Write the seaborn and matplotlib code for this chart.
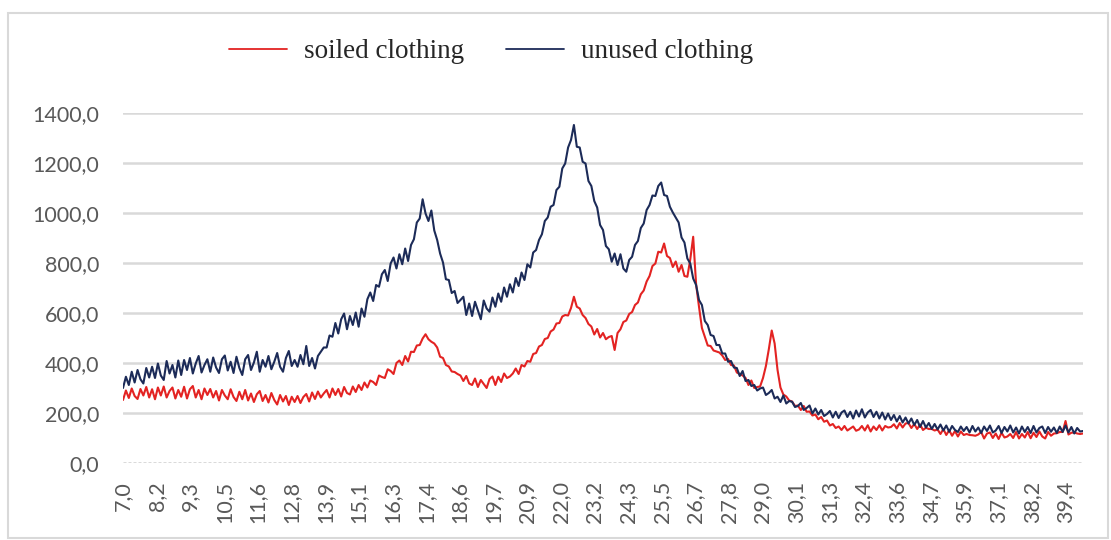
import numpy as np
import pandas as pd
import matplotlib
matplotlib.use("Agg")
import matplotlib.pyplot as plt
from matplotlib.patches import Rectangle
from matplotlib.ticker import FixedLocator, FuncFormatter
import seaborn as sns

# 2-theta scan positions (degrees), 0.1 step
two_theta = np.round(np.arange(70, 401) / 10.0, 1)

# intensity of the unused clothing sample, one row per degree (7.0 ... 39.9), then 40.0
unused_clothing = [
    300, 345, 312, 365, 322, 372, 335, 318, 380, 342,
    385, 340, 398, 350, 332, 408, 358, 392, 342, 410,
    352, 412, 372, 420, 358, 398, 428, 362, 392, 415,
    365, 422, 382, 360, 415, 430, 370, 405, 360, 425,
    380, 352, 415, 432, 372, 402, 445, 365, 412, 385,
    428, 375, 405, 440, 385, 365, 420, 448, 388, 412,
    385, 432, 395, 468, 388, 420, 378, 428, 445, 462,
    462, 510, 505, 560, 518, 575, 598, 535, 588, 552,
    602, 545, 618, 585, 655, 682, 648, 712, 705, 755,
    772, 728, 798, 822, 778, 835, 795, 858, 808, 872,
    895, 962, 978, 1055, 998, 968, 1010, 930, 892, 838,
    802, 735, 732, 680, 688, 640, 652, 665, 592, 638,
    588, 645, 610, 575, 650, 618, 605, 662, 625, 678,
    645, 702, 665, 715, 682, 740, 708, 762, 732, 795,
    782, 842, 852, 892, 915, 968, 982, 1025, 1032, 1092,
    1105, 1178, 1198, 1262, 1292, 1352, 1265, 1262, 1205, 1198,
    1128, 1108, 1048, 1022, 952, 932, 868, 855, 805, 838,
    792, 835, 778, 765, 812, 825, 872, 888, 940, 958,
    1012, 1032, 1070, 1068, 1108, 1122, 1072, 1068, 1025, 1002,
    982, 962, 902, 882, 818, 798, 738, 712, 652, 632,
    568, 552, 512, 508, 472, 472, 438, 438, 405, 408,
    382, 380, 348, 368, 328, 332, 308, 312, 290, 298,
    302, 272, 280, 292, 258, 265, 244, 270, 238, 248,
    245, 224, 228, 240, 212, 220, 230, 198, 218, 194,
    212, 188, 196, 208, 182, 205, 180, 202, 210, 184,
    205, 178, 210, 186, 215, 182, 202, 212, 184, 205,
    178, 202, 174, 198, 172, 192, 166, 188, 162, 182,
    158, 178, 152, 172, 144, 168, 142, 160, 136, 156,
    134, 154, 130, 150, 125, 148, 132, 124, 146, 128,
    144, 122, 148, 126, 142, 120, 146, 128, 150, 122,
    130, 148, 120, 144, 126, 150, 122, 142, 118, 146,
    124, 144, 120, 148, 122, 140, 146, 120, 144, 125,
    142, 120, 146, 124, 150, 122, 144, 118, 140, 126,
    128,
]

# intensity of the soiled clothing sample, same layout
soiled_clothing = [
    252, 290, 260, 298, 268, 256, 296, 270, 304, 262,
    295, 255, 302, 270, 306, 262, 288, 302, 258, 292,
    265, 305, 258, 295, 308, 262, 292, 255, 298, 272,
    296, 262, 288, 250, 292, 270, 255, 295, 264, 248,
    285, 255, 292, 250, 278, 244, 275, 288, 248, 272,
    242, 280, 252, 234, 272, 246, 268, 232, 265, 244,
    268, 240, 264, 276, 246, 282, 256, 286, 262, 278,
    292, 262, 298, 272, 296, 266, 304, 280, 274, 306,
    284, 312, 292, 322, 302, 330, 324, 312, 350, 344,
    340, 375, 368, 356, 400, 410, 392, 428, 406, 445,
    444, 470, 472, 498, 515, 495, 485, 478, 462, 425,
    420, 392, 386, 366, 364, 356, 350, 328, 348, 318,
    312, 338, 304, 332, 316, 300, 336, 346, 312, 345,
    324, 358, 340, 346, 358, 378, 356, 392, 386, 408,
    405, 436, 440, 466, 472, 496, 500, 526, 534, 558,
    560, 586, 592, 590, 620, 665, 625, 618, 592, 580,
    556, 546, 514, 536, 502, 520, 495, 504, 508, 452,
    520, 535, 564, 570, 596, 604, 632, 642, 675, 690,
    726, 748, 788, 798, 845, 842, 878, 828, 820, 784,
    806, 765, 792, 748, 745, 815, 905, 715, 625, 540,
    505, 470, 468, 450, 446, 442, 430, 412, 416, 392,
    390, 362, 356, 350, 340, 312, 330, 300, 304, 306,
    340, 388, 455, 530, 478, 372, 302, 274, 266, 250,
    246, 228, 230, 212, 228, 205, 206, 190, 194, 175,
    184, 165, 170, 150, 156, 140, 146, 132, 148, 130,
    138, 146, 129, 134, 148, 130, 151, 126, 146, 132,
    151, 130, 148, 142, 144, 155, 138, 160, 142, 158,
    160, 140, 156, 136, 154, 132, 141, 136, 136, 130,
    134, 116, 136, 112, 131, 109, 128, 106, 126, 112,
    116, 112, 111, 109, 114, 124, 98, 118, 122, 100,
    118, 96, 121, 102, 106, 116, 100, 124, 98, 116,
    102, 124, 99, 121, 104, 126, 106, 98, 124, 109,
    118, 119, 124, 124, 168, 114, 121, 122, 118, 116,
    118,
]

series_names = ["soiled clothing", "unused clothing"]
series_colors = ["#e32322", "#1c2b58"]

x_tick_labels = ["7,0", "8,2", "9,3", "10,5", "11,6", "12,8", "13,9", "15,1",
                 "16,3", "17,4", "18,6", "19,7", "20,9", "22,0", "23,2", "24,3",
                 "25,5", "26,7", "27,8", "29,0", "30,1", "31,3", "32,4", "33,6",
                 "34,7", "35,9", "37,1", "38,2", "39,4"]
y_ticks = [0, 200, 400, 600, 800, 1000, 1200, 1400]

df = pd.DataFrame({
    "two_theta": np.concatenate([two_theta, two_theta]),
    "intensity": np.concatenate([soiled_clothing, unused_clothing]),
    "sample": [series_names[0]] * len(two_theta) + [series_names[1]] * len(two_theta),
})

sns.set_style("white")
plt.rcParams["font.family"] = ["Lato", "DejaVu Sans"]

W, H = 1111, 540
fig = plt.figure(figsize=(W / 100, H / 100), dpi=100)
ax = fig.add_axes([123 / W, 77 / H, 960 / W, 350 / H])

# chart-area frame
fig.patches.append(Rectangle((8 / W, 2 / H), 1100 / W, 525 / H, transform=fig.transFigure,
                             fill=False, edgecolor="#d9d9d9", linewidth=1.5))

for g in y_ticks[1:]:
    ax.axhline(g, color="#d9d9d9", linewidth=1.8, zorder=0)
ax.axhline(0, color="#cfcfcf", linewidth=1.8, linestyle=(0, (1.2, 0.8)), zorder=0)

sns.lineplot(data=df, x="two_theta", y="intensity", hue="sample",
             hue_order=series_names, palette=series_colors,
             estimator=None, sort=False, linewidth=1.5, ax=ax, legend=False)

ax.set_xlim(7.0, 40.0)
ax.set_ylim(0, 1400)
for s in ax.spines.values():
    s.set_visible(False)

first = float(x_tick_labels[0].replace(",", "."))
last = float(x_tick_labels[-1].replace(",", "."))
ax.xaxis.set_major_locator(FixedLocator(np.linspace(first, last, len(x_tick_labels))))
ax.set_xticklabels(x_tick_labels, rotation=90, ha="center", va="top")
ax.yaxis.set_major_locator(FixedLocator(y_ticks))
ax.yaxis.set_major_formatter(FuncFormatter(lambda v, p: f"{v:.1f}".replace(".", ",")))
ax.tick_params(axis="both", length=0, labelsize=15.5, labelcolor="#595959")
ax.tick_params(axis="x", pad=13)
ax.tick_params(axis="y", pad=17)
ax.set_xlabel("")
ax.set_ylabel("")
ax.grid(False)

handles = [plt.Line2D([], [], color=c, linewidth=1.3) for c in series_colors]
ax.legend(handles, series_names, loc="center", bbox_to_anchor=(491 / W, 1 - 52 / H),
          bbox_transform=fig.transFigure, ncol=2, frameon=False,
          prop={"family": "Liberation Serif", "size": 19.5},
          handlelength=2.15, handletextpad=0.63, columnspacing=1.55)

fig.savefig("out.png", dpi=100, facecolor="white")
